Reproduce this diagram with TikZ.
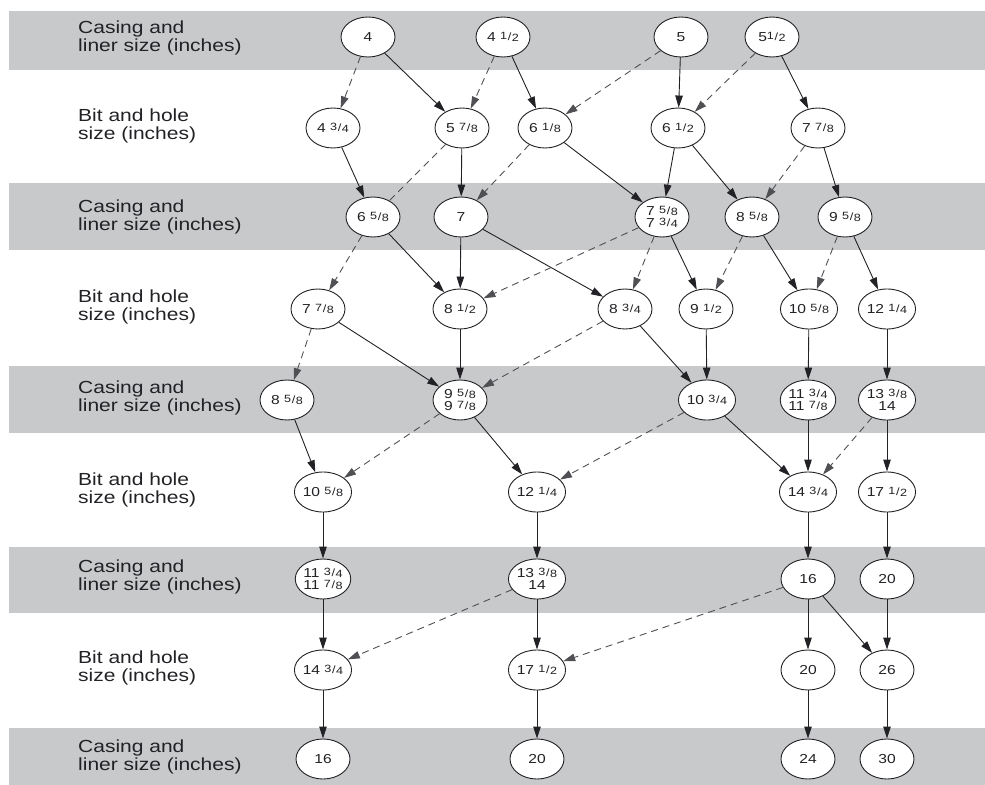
\documentclass[tikz,border=0pt]{standalone}
\usepackage{fontspec}
\setmainfont{Liberation Sans}[FakeStretch=1.2]
\usetikzlibrary{shapes.geometric,arrows.meta}
\definecolor{bandgray}{RGB}{200,201,203}
\definecolor{ink}{RGB}{34,34,38}
\definecolor{dashc}{RGB}{80,80,84}
\newcommand{\fr}[2]{{\fontsize{10.5bp}{10.5bp}\selectfont\raisebox{2bp}{#1}\kern0.6bp\raisebox{1bp}{/}\kern0.6bp#2}}
\begin{document}
\begin{tikzpicture}[x=1bp,y=-1bp,
  nd/.style={ellipse,draw=ink,line width=0.9bp,fill=white,minimum width=54bp,minimum height=40bp,inner sep=0pt,align=center,text=ink,font=\fontsize{13bp}{12.5bp}\selectfont},
  sol/.style={draw=ink,line width=0.9bp,-{Triangle[length=12bp,width=7.5bp]}},
  dsh/.style={draw=dashc,line width=0.9bp,dash pattern=on 7bp off 5bp,-{Triangle[length=12bp,width=7.5bp]}},
  dshn/.style={draw=dashc,line width=0.9bp,dash pattern=on 7bp off 5bp},
  band/.style={fill=bandgray,draw=none},
  lab/.style={anchor=west,align=left,inner sep=0pt,text=ink,font=\fontsize{17.5bp}{18bp}\selectfont}]
\useasboundingbox (0,0) rectangle (985,785);
% bands
\fill[band] (9,11) rectangle (985,70);
\fill[band] (9,183) rectangle (985,250);
\fill[band] (9,366) rectangle (985,433);
\fill[band] (9,547) rectangle (985,613);
\fill[band] (9,728) rectangle (985,785);
% labels
\node[lab] (l0) at (78,38) {Casing and\\liner size (inches)};
\node[lab] (l1) at (78,126) {Bit and hole\\size (inches)};
\node[lab] (l2) at (78,217) {Casing and\\liner size (inches)};
\node[lab] (l3) at (78,307) {Bit and hole\\size (inches)};
\node[lab] (l4) at (78,398) {Casing and\\liner size (inches)};
\node[lab] (l5) at (78,490) {Bit and hole\\size (inches)};
\node[lab] (l6) at (78,577) {Casing and\\liner size (inches)};
\node[lab] (l7) at (78,668) {Bit and hole\\size (inches)};
\node[lab] (l8) at (78,757) {Casing and\\liner size (inches)};
% row 0
\node[nd] (a0) at (368,37) {4};
\node[nd] (b0) at (503,37) {4 \fr12};
\node[nd] (c0) at (681,37) {5};
\node[nd] (d0) at (772,37) {5\fr12};
% row 1
\node[nd] (a1) at (333,128) {4 \fr34};
\node[nd] (b1) at (462,128) {5 \fr78};
\node[nd] (c1) at (545,128) {6 \fr18};
\node[nd] (d1) at (678,128) {6 \fr12};
\node[nd] (e1) at (818,128) {7 \fr78};
% row 2
\node[nd] (a2) at (373,217) {6 \fr58};
\node[nd] (b2) at (461,217) {7};
\node[nd] (c2) at (662,217) {7 \fr58\\7 \fr34};
\node[nd] (d2) at (752,217) {8 \fr58};
\node[nd] (e2) at (845,217) {9 \fr58};
% row 3
\node[nd] (a3) at (318,309) {7 \fr78};
\node[nd] (b3) at (460,309) {8 \fr12};
\node[nd] (c3) at (625,309) {8 \fr34};
\node[nd] (d3) at (706,309) {9 \fr12};
\node[nd] (e3) at (809,309) {10 \fr58};
\node[nd] (f3) at (887,309) {12 \fr14};
% row 4
\node[nd] (a4) at (287,400) {8 \fr58};
\node[nd] (b4) at (460,400) {9 \fr58\\9 \fr78};
\node[nd] (c4) at (707,400) {10 \fr34};
\node[nd] (d4) at (808,400) {11 \fr34\\11 \fr78};
\node[nd] (e4) at (887,400) {13 \fr38\\14};
% row 5
\node[nd] (a5) at (323,492) {10 \fr58};
\node[nd] (b5) at (537,492) {12 \fr14};
\node[nd] (c5) at (808,492) {14 \fr34};
\node[nd] (d5) at (887,492) {17 \fr12};
% row 6
\node[nd] (a6) at (323,579) {11 \fr34\\11 \fr78};
\node[nd] (b6) at (537,579) {13 \fr38\\14};
\node[nd] (c6) at (808,579) {16};
\node[nd] (d6) at (887,579) {20};
% row 7
\node[nd] (a7) at (323,670) {14 \fr34};
\node[nd] (b7) at (537,670) {17 \fr12};
\node[nd] (c7) at (808,670) {20};
\node[nd] (d7) at (887,670) {26};
% row 8
\node[nd] (a8) at (323,759) {16};
\node[nd] (b8) at (537,759) {20};
\node[nd] (c8) at (808,759) {24};
\node[nd] (d8) at (887,759) {30};
% edges row0 -> row1
\draw[dsh] (a0) -- (a1);
\draw[sol] (a0) -- (b1);
\draw[dsh] (b0) -- (b1);
\draw[sol] (b0) -- (c1);
\draw[dsh] (c0) -- (c1);
\draw[sol] (c0) -- (d1);
\draw[dsh] (d0) -- (d1);
\draw[sol] (d0) -- (e1);
% row1 -> row2
\draw[sol] (a1) -- (a2);
\draw[dshn] (b1) -- (a2);
\draw[sol] (b1) -- (b2);
\draw[dsh] (c1) -- (b2);
\draw[sol] (c1) -- (c2);
\draw[sol] (d1) -- (c2);
\draw[sol] (d1) -- (d2);
\draw[dsh] (e1) -- (d2);
\draw[sol] (e1) -- (e2);
% row2 -> row3
\draw[dsh] (a2) -- (a3);
\draw[sol] (a2) -- (b3);
\draw[sol] (b2) -- (b3);
\draw[sol] (b2) -- (c3);
\draw[dsh] (c2) -- (b3);
\draw[dsh] (c2) -- (c3);
\draw[sol] (c2) -- (d3);
\draw[dsh] (d2) -- (d3);
\draw[sol] (d2) -- (e3);
\draw[dsh] (e2) -- (e3);
\draw[sol] (e2) -- (f3);
% row3 -> row4
\draw[dsh] (a3) -- (a4);
\draw[sol] (a3) -- (b4);
\draw[sol] (b3) -- (b4);
\draw[dsh] (c3) -- (b4);
\draw[sol] (c3) -- (c4);
\draw[sol] (d3) -- (c4);
\draw[sol] (e3) -- (d4);
\draw[sol] (f3) -- (e4);
% row4 -> row5
\draw[sol] (a4) -- (a5);
\draw[dsh] (b4) -- (a5);
\draw[sol] (b4) -- (b5);
\draw[dsh] (c4) -- (b5);
\draw[sol] (c4) -- (c5);
\draw[sol] (d4) -- (c5);
\draw[dsh] (e4) -- (c5);
\draw[sol] (e4) -- (d5);
% row5 -> row6
\draw[sol] (a5) -- (a6);
\draw[sol] (b5) -- (b6);
\draw[sol] (c5) -- (c6);
\draw[sol] (d5) -- (d6);
% row6 -> row7
\draw[sol] (a6) -- (a7);
\draw[dsh] (b6) -- (a7);
\draw[sol] (b6) -- (b7);
\draw[dsh] (c6) -- (b7);
\draw[sol] (c6) -- (c7);
\draw[sol] (c6) -- (d7);
\draw[sol] (d6) -- (d7);
% row7 -> row8
\draw[sol] (a7) -- (a8);
\draw[sol] (b7) -- (b8);
\draw[sol] (c7) -- (c8);
\draw[sol] (d7) -- (d8);
\end{tikzpicture}
\end{document}
